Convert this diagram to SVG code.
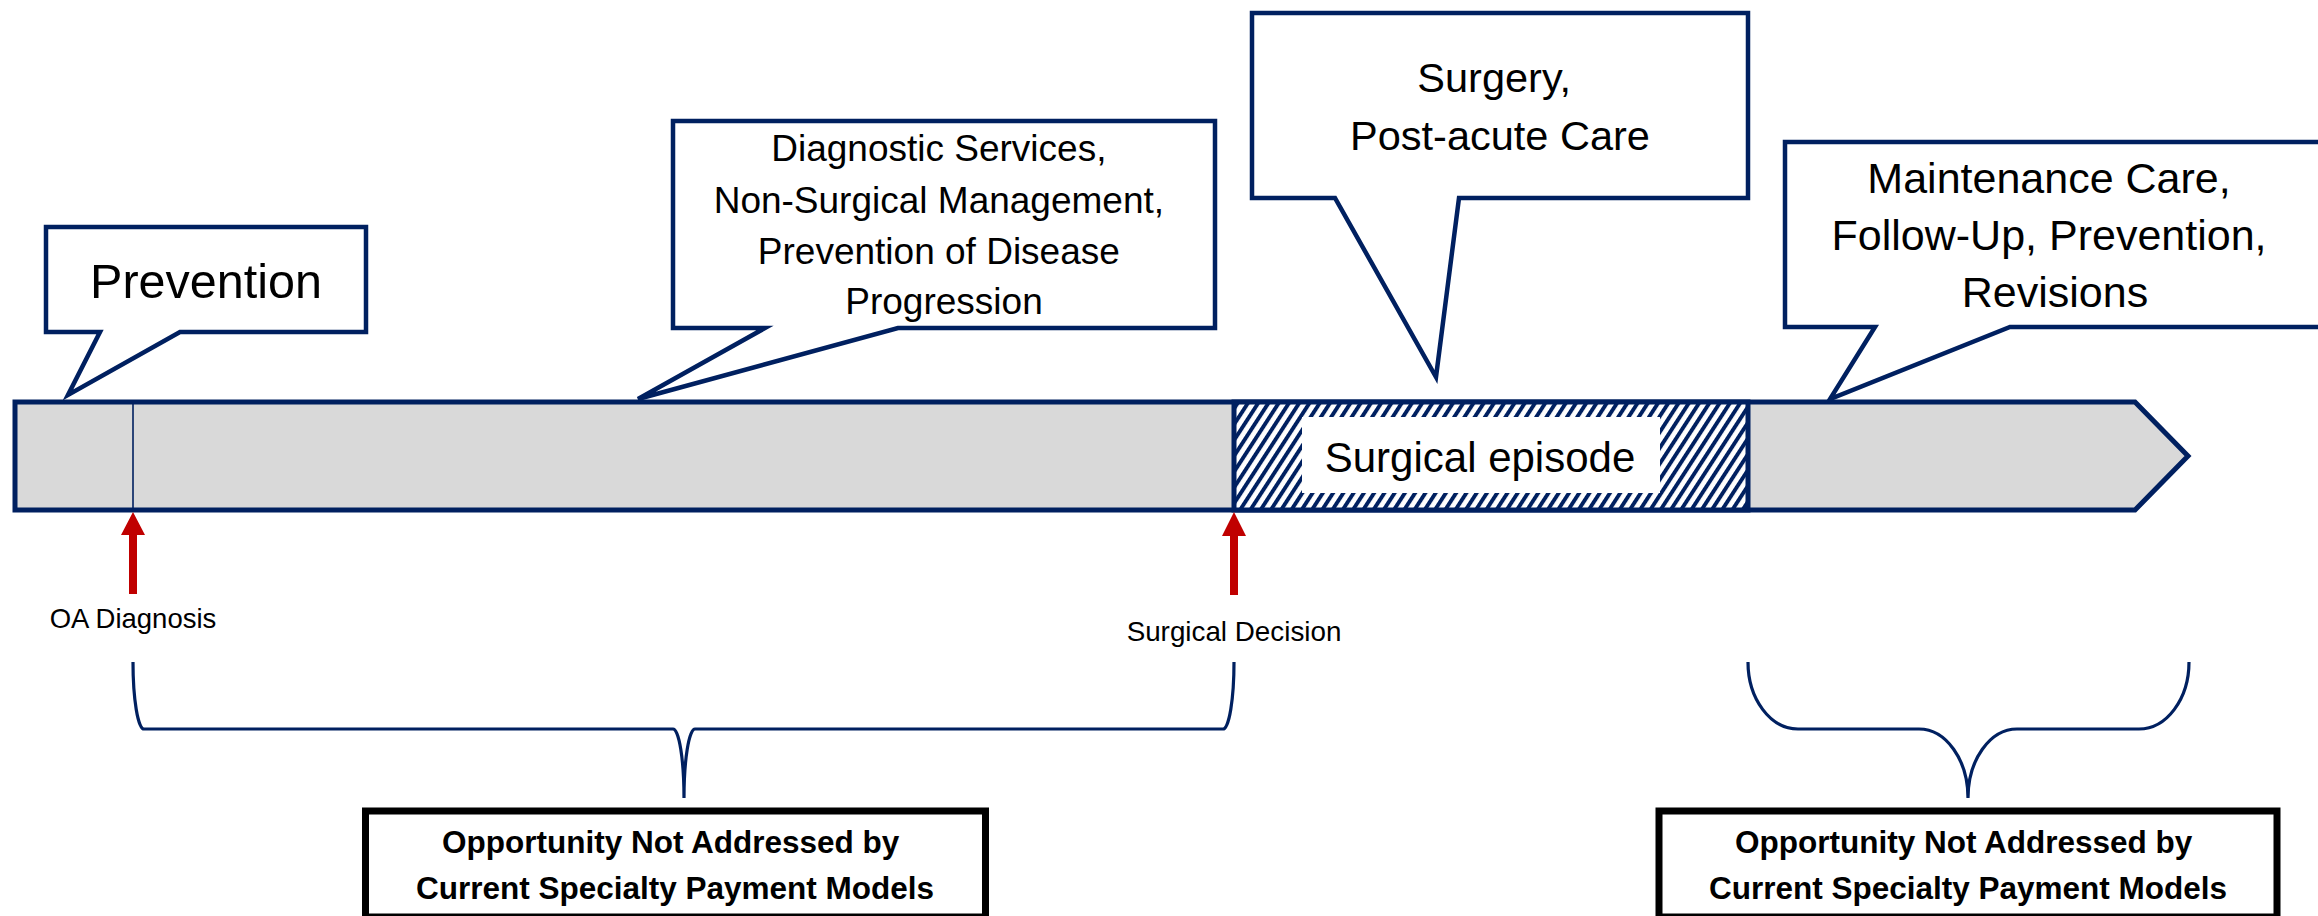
<svg xmlns="http://www.w3.org/2000/svg" width="2318" height="916" viewBox="0 0 2318 916">
  <style>
    .callout { fill: #FFFFFF; stroke: #002060; stroke-width: 4.5; }
    .bar { fill: #D9D9D9; stroke: #002060; stroke-width: 5; }
    .lbl { font-family: "Liberation Sans", Arial, sans-serif; fill: #000000; text-anchor: middle; }
    .brace { fill: none; stroke: #002060; stroke-width: 3.2; }
    .gap { fill: #FFFFFF; stroke: #000000; stroke-width: 7; }
    .gapText { font-family: "Liberation Sans", Arial, sans-serif; font-weight: bold; font-size: 31.5px; fill: #000000; text-anchor: middle; }
    .marker { fill: #C00000; }
  </style>
  <defs>
    <pattern id="hatch" patternUnits="userSpaceOnUse" width="8.6" height="8.6" patternTransform="rotate(33)">
      <rect x="0" y="0" width="8.6" height="8.6" fill="#FFFFFF"/>
      <rect x="0" y="0" width="3.9" height="8.6" fill="#002060"/>
    </pattern>
  </defs>

  <rect x="0" y="0" width="2318" height="916" fill="#FFFFFF"/>

  <!-- timeline bar -->
  <g id="timeline">
    <path class="bar" d="M15,402 H2135 L2188,456 L2135,510 H15 Z"/>
    <line x1="133" y1="402" x2="133" y2="510" stroke="#002060" stroke-width="1.6"/>
  </g>

  <!-- surgical episode segment -->
  <g id="surgical-episode">
    <rect x="1234" y="402" width="514" height="108" fill="url(#hatch)" stroke="#002060" stroke-width="5"/>
    <rect x="1302" y="417" width="358" height="76" fill="#FFFFFF"/>
    <text class="lbl" x="1480" y="472" font-size="42">Surgical episode</text>
  </g>

  <!-- callouts above the timeline -->
  <g id="callout-prevention">
    <path class="callout" d="M46,227 H366 V332 H180 L68,395 L100,332 H46 Z"/>
    <text class="lbl" x="206" y="298" font-size="48.5">Prevention</text>
  </g>

  <g id="callout-diagnostic">
    <path class="callout" d="M673,121 H1215 V328 H898 L638,399 L765,328 H673 Z"/>
    <text class="lbl" font-size="37">
      <tspan x="944" y="161">Diagnostic Services,</tspan>
      <tspan x="944" y="212.5">Non-Surgical Management,</tspan>
      <tspan x="944" y="264">Prevention of Disease</tspan>
      <tspan x="944" y="314">Progression</tspan>
    </text>
  </g>

  <g id="callout-surgery">
    <path class="callout" d="M1252,13 H1748 V198 H1459 L1436,377 L1335,198 H1252 Z"/>
    <text class="lbl" font-size="41.5">
      <tspan x="1500" y="92">Surgery,</tspan>
      <tspan x="1500" y="150">Post-acute Care</tspan>
    </text>
  </g>

  <g id="callout-maintenance">
    <path class="callout" d="M1785,142 H2323 V327 H2010 L1830,399 L1875,327 H1785 Z"/>
    <text class="lbl" font-size="43">
      <tspan x="2055" y="193">Maintenance Care,</tspan>
      <tspan x="2055" y="250">Follow-Up, Prevention,</tspan>
      <tspan x="2055" y="307">Revisions</tspan>
    </text>
  </g>

  <!-- milestone markers -->
  <g id="marker-oa-diagnosis">
    <path class="marker" d="M133,512 L145,535 L137,535 L137,594 L129,594 L129,535 L121,535 Z"/>
    <text class="lbl" x="133" y="628" font-size="27.5">OA Diagnosis</text>
  </g>

  <g id="marker-surgical-decision">
    <path class="marker" d="M1234,512 L1246,536 L1238,536 L1238,595 L1230,595 L1230,536 L1222,536 Z"/>
    <text class="lbl" x="1234" y="641" font-size="27.8">Surgical Decision</text>
  </g>

  <!-- braces -->
  <g id="connectors">
    <path class="brace" d="M133,662 A11,67 0 0 0 144,729 H673 A11,69 0 0 1 684,798 A11,69 0 0 1 695,729 H1223 A11,67 0 0 0 1234,662"/>
    <path class="brace" d="M1748,662 A50,67 0 0 0 1798,729 H1919 A49,69 0 0 1 1968,798 A49,69 0 0 1 2017,729 H2139 A50,67 0 0 0 2189,662"/>
  </g>

  <!-- gap boxes -->
  <g id="gap-left">
    <rect class="gap" x="365.5" y="811" width="620" height="106"/>
    <text class="gapText">
      <tspan x="675" y="853">Opportunity Not Addressed by</tspan>
      <tspan x="675" y="899">Current Specialty Payment Models</tspan>
    </text>
  </g>

  <g id="gap-right">
    <rect class="gap" x="1659" y="811" width="618" height="106"/>
    <text class="gapText">
      <tspan x="1968" y="853">Opportunity Not Addressed by</tspan>
      <tspan x="1968" y="899">Current Specialty Payment Models</tspan>
    </text>
  </g>
</svg>
